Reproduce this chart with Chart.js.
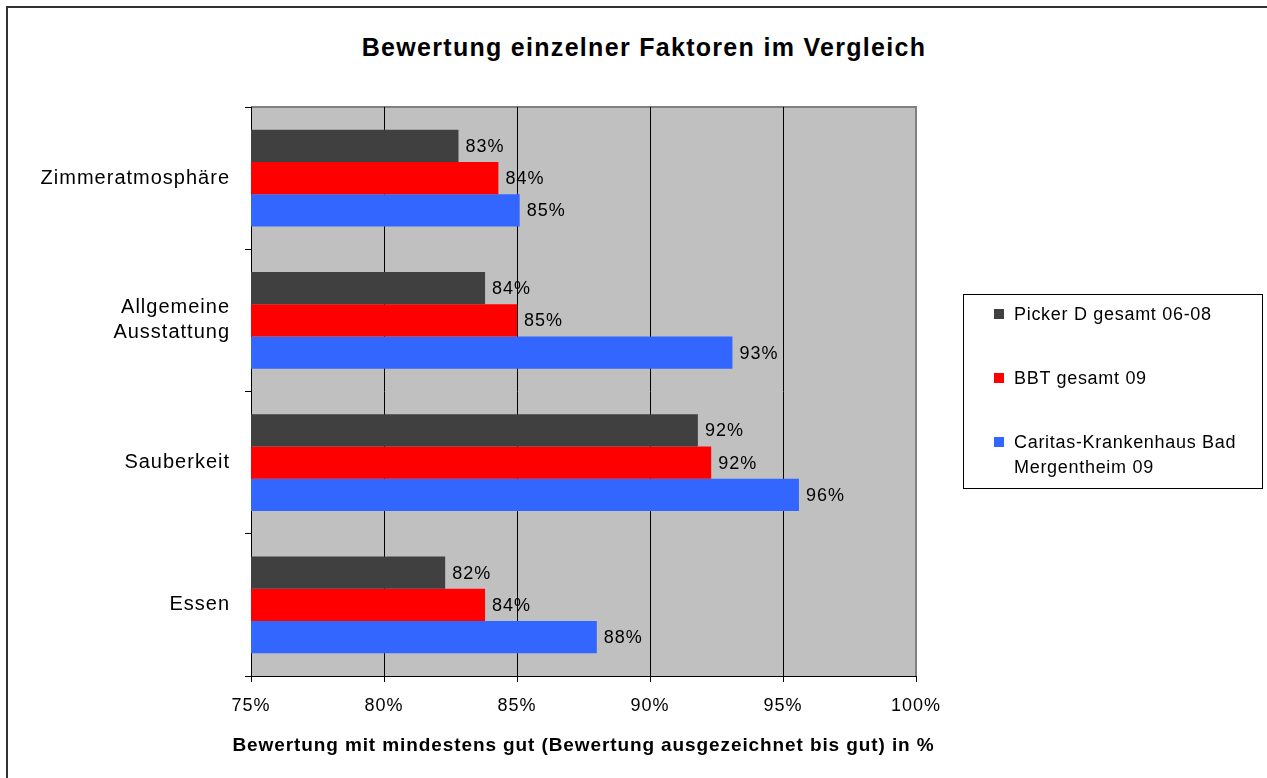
<!DOCTYPE html>
<html>
<head>
<meta charset="utf-8">
<script src="https://cdn.jsdelivr.net/npm/chart.js@4.4.1/dist/chart.umd.min.js"></script>
<style>
  html, body { margin: 0; padding: 0; background: #fff; overflow: hidden; }
  #frame { position: absolute; left: 6px; top: 6px; width: 1300px; height: 800px; border: 2px solid #333; }
  #title { position: absolute; left: 8px; width: 1272px; top: 33px; text-align: center;
           font: bold 25px "Liberation Sans", Arial, sans-serif; letter-spacing: 1.3px; color: #000; }
  #wrap { position: absolute; left: 0; top: 0; width: 1267px; height: 778px; }
  #legend { position: absolute; left: 963px; top: 294px; width: 300px; height: 195px;
            border: 1px solid #000; padding: 7px 0 0 30px; box-sizing: border-box;
            font: 18px "Liberation Sans", Arial, sans-serif; letter-spacing: 0.7px; color: #000; }
  #legend .item { position: relative; padding-left: 20px; line-height: 25px; width: 235px; margin-bottom: 39px; }
  #legend .sw { position: absolute; left: 0; top: 7px; width: 10px; height: 10px; }
</style>
</head>
<body>
<div id="frame"></div>
<div id="title">Bewertung einzelner Faktoren im Vergleich</div>
<div id="wrap"><canvas id="myChart" width="1267" height="778"></canvas></div>
<div id="legend"></div>
<script>
var categories = ['Zimmeratmosphäre', ['Allgemeine', 'Ausstattung'], 'Sauberkeit', 'Essen'];
var seriesNames = ['Picker D gesamt 06-08', 'BBT gesamt 09', 'Caritas-Krankenhaus Bad Mergentheim 09'];
var seriesColors = ['#404040', '#ff0000', '#3366ff'];
var pickerValues = [82.8, 83.8, 91.8, 82.3];
var bbtValues = [84.3, 85.0, 92.3, 83.8];
var caritasValues = [85.1, 93.1, 95.6, 88.0];
var xTicks = [75, 80, 85, 90, 95, 100];
var xTitle = 'Bewertung mit mindestens gut (Bewertung ausgezeichnet bis gut) in %';

// grauer Hintergrund der Zeichenfläche
var plotBg = {
  id: 'plotBg',
  beforeDraw: function(chart) {
    var ctx = chart.ctx, a = chart.chartArea;
    ctx.letterSpacing = '1px';
    ctx.save();
    ctx.fillStyle = '#c0c0c0';
    ctx.fillRect(a.left, a.top, a.right - a.left, a.bottom - a.top);
    ctx.strokeStyle = '#808080';
    ctx.lineWidth = 2;
    ctx.beginPath();
    ctx.moveTo(a.left, a.top);
    ctx.lineTo(a.right, a.top);
    ctx.lineTo(a.right, a.bottom);
    ctx.stroke();
    ctx.restore();
  }
};

// Beschriftung rechts neben den Balken + Achsentitel (ohne maxWidth-Stauchung)
var barLabels = {
  id: 'barLabels',
  afterDatasetsDraw: function(chart) {
    var ctx = chart.ctx;
    ctx.save();
    ctx.font = '18px "Liberation Sans", Arial, sans-serif';
    ctx.fillStyle = '#000';
    ctx.textAlign = 'left';
    ctx.textBaseline = 'middle';
    chart.data.datasets.forEach(function(ds, i) {
      chart.getDatasetMeta(i).data.forEach(function(bar, j) {
        ctx.fillText(Math.round(ds.data[j]) + '%', bar.x + 7, bar.y + 1);
      });
    });
    ctx.restore();
  },
  afterDraw: function(chart) {
    var ctx = chart.ctx, x = chart.scales.x;
    ctx.save();
    ctx.letterSpacing = '0.9px';
    ctx.font = 'bold 19px "Liberation Sans", Arial, sans-serif';
    ctx.fillStyle = '#000';
    ctx.textAlign = 'center';
    ctx.textBaseline = 'middle';
    ctx.fillText(xTitle, (x.left + x.right) / 2, x.bottom - 32);
    ctx.restore();
  }
};

var ctx = document.getElementById('myChart').getContext('2d');
var myChart = new Chart(ctx, {
  type: 'bar',
  data: {
    labels: categories,
    datasets: [
      { label: seriesNames[0], data: pickerValues, backgroundColor: seriesColors[0] },
      { label: seriesNames[1], data: bbtValues, backgroundColor: seriesColors[1] },
      { label: seriesNames[2], data: caritasValues, backgroundColor: seriesColors[2] }
    ]
  },
  options: {
    indexAxis: 'y',
    responsive: false,
    animation: false,
    devicePixelRatio: 1,
    categoryPercentage: 0.68,
    barPercentage: 1.0,
    layout: { padding: { left: 0, top: 107, right: 351, bottom: 0 } },
    plugins: {
      legend: { display: false },
      tooltip: { enabled: false }
    },
    scales: {
      x: {
        type: 'linear',
        min: 75,
        max: 100,
        afterBuildTicks: function(scale) {
          scale.ticks = xTicks.map(function(v) { return { value: v }; });
        },
        afterFit: function(scale) { scale.height = 102; },
        border: { display: true, color: '#000', width: 1 },
        grid: {
          color: function(c) { return c.tick && c.tick.value === 100 ? '#808080' : '#000'; },
          tickColor: '#000',
          tickLength: 6,
          lineWidth: 1
        },
        ticks: {
          padding: 13,
          color: '#000',
          font: { family: '"Liberation Sans", Arial, sans-serif', size: 18 },
          callback: function(v) { return v + '%'; }
        }
      },
      y: {
        afterFit: function(scale) { scale.width = 251; },
        border: { display: true, color: '#000', width: 1 },
        grid: { drawOnChartArea: false, drawTicks: true, tickLength: 6, color: '#000' },
        ticks: {
          padding: 15,
          color: '#000',
          font: { family: '"Liberation Sans", Arial, sans-serif', size: 20, lineHeight: 1.25 }
        }
      }
    }
  },
  plugins: [plotBg, barLabels]
});

// Legende als HTML
var legend = document.getElementById('legend');
myChart.data.datasets.forEach(function(ds) {
  var item = document.createElement('div');
  item.className = 'item';
  var sw = document.createElement('span');
  sw.className = 'sw';
  sw.style.background = ds.backgroundColor;
  item.appendChild(sw);
  item.appendChild(document.createTextNode(ds.label));
  legend.appendChild(item);
});
</script>
</body>
</html>
